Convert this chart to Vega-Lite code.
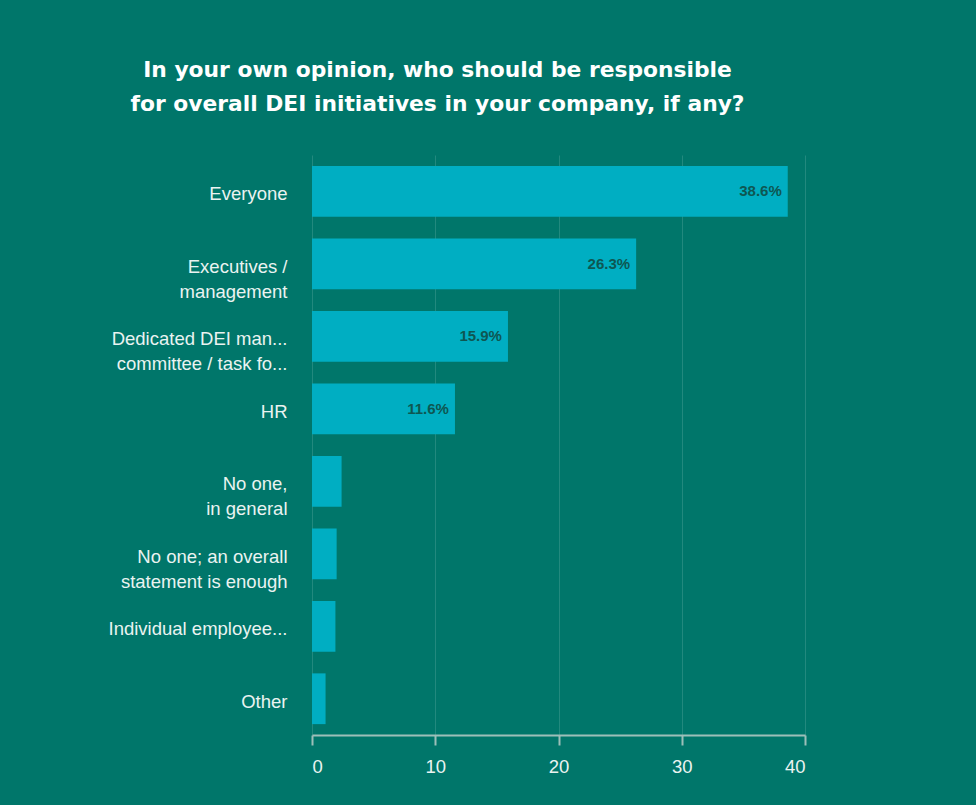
{
  "$schema": "https://vega.github.io/schema/vega-lite/v6.json",
  "autosize": {"type": "none"},
  "width": 493,
  "height": 580,
  "padding": {"left": 312, "top": 155, "right": 171, "bottom": 70},
  "background": "#00766A",
  "title": {
    "text": ["In your own opinion, who should be responsible", "for overall DEI initiatives in your company, if any?"],
    "font": "DejaVu Sans",
    "fontSize": 21.8,
    "fontWeight": "bold",
    "color": "#ffffff",
    "lineHeight": 34,
    "anchor": "middle",
    "frame": "group",
    "dx": -121,
    "offset": 39
  },
  "data": {
    "values": [
      {"answer": "Everyone", "pct": 38.6, "label": "38.6%"},
      {"answer": "Executives /|management", "pct": 26.3, "label": "26.3%"},
      {"answer": "Dedicated DEI man...|committee / task fo...", "pct": 15.9, "label": "15.9%"},
      {"answer": "HR", "pct": 11.6, "label": "11.6%"},
      {"answer": "No one,|in general", "pct": 2.4, "label": ""},
      {"answer": "No one; an overall|statement is enough", "pct": 2.0, "label": ""},
      {"answer": "Individual employee...", "pct": 1.9, "label": ""},
      {"answer": "Other", "pct": 1.1, "label": ""}
    ]
  },
  "encoding": {
    "y": {
      "field": "answer",
      "type": "nominal",
      "sort": null,
      "scale": {"paddingInner": 0.3, "paddingOuter": 0.15},
      "axis": {
        "title": null,
        "domain": false,
        "ticks": false,
        "labelExpr": "split(datum.label, '|')",
        "labelFont": "Liberation Sans",
        "labelFontSize": 18.5,
        "labelColor": "#EAF3F1",
        "labelPadding": 25,
        "labelOffset": 3,
        "labelLineHeight": 25,
        "labelLimit": 300
      }
    },
    "x": {
      "field": "pct",
      "type": "quantitative",
      "scale": {"domain": [0, 40]},
      "axis": {
        "title": null,
        "values": [0, 10, 20, 30, 40],
        "grid": true,
        "gridColor": "#22897E",
        "gridWidth": 1,
        "domainColor": "#9DBFB9",
        "domainWidth": 2,
        "tickColor": "#9DBFB9",
        "tickWidth": 2,
        "tickSize": 10,
        "labelFont": "Liberation Sans",
        "labelFontSize": 18.5,
        "labelColor": "#EAF3F1",
        "labelPadding": 12
      }
    }
  },
  "layer": [
    {"mark": {"type": "bar", "color": "#00AEC2"}},
    {
      "mark": {"type": "text", "align": "right", "dx": -6, "font": "Liberation Sans", "fontSize": 15, "fontWeight": "bold", "color": "#0E5752"},
      "encoding": {"text": {"field": "label"}}
    }
  ],
  "config": {"view": {"stroke": null}}
}
